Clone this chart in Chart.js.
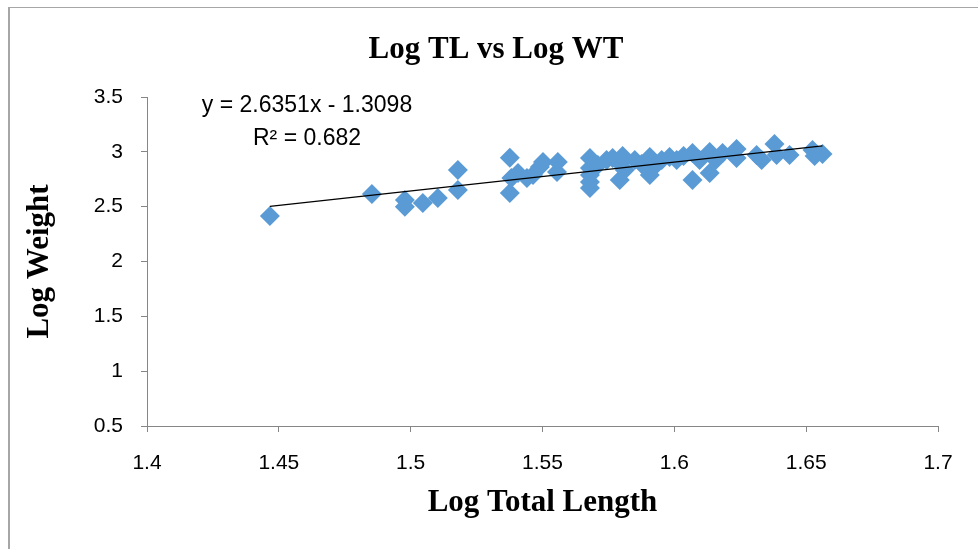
<!DOCTYPE html>
<html>
<head>
<meta charset="utf-8">
<script src="https://cdn.jsdelivr.net/npm/chart.js@4.4.1/dist/chart.umd.min.js"></script>
<style>
    body { margin: 0; background: #fff; }
    #wrap { position: relative; width: 978px; height: 549px; overflow: hidden; }
    #frame { position: absolute; left: 8px; top: 7px; width: 2000px; height: 2000px;
             border-left: 2px solid #a6a6a6; border-top: 1px solid #a6a6a6; }
    #myChart { position: absolute; left: 0; top: 0; }
</style>
</head>
<body>
<div id="wrap">
    <div id="frame"></div>
    <canvas id="myChart" width="978" height="549"></canvas>
</div>
<script>
// log total length / log weight
const LOG_TL = [
    1.4466, 1.4853, 1.4978, 1.4978, 1.5046, 1.5103, 1.5179, 1.5179,
    1.5376, 1.5376, 1.5382, 1.5407, 1.5441, 1.5464, 1.5490, 1.5502,
    1.5558, 1.5555, 1.5680, 1.5680, 1.5680, 1.5680, 1.5680,
    1.5710, 1.5743, 1.5766, 1.5793, 1.5804, 1.5793, 1.5812, 1.5850,
    1.5876, 1.5907, 1.5907, 1.5926, 1.5952, 1.5982, 1.6009, 1.6035,
    1.6069, 1.6069, 1.6096, 1.6134, 1.6134, 1.6157, 1.6183, 1.6236,
    1.6236, 1.6312, 1.6331, 1.6380, 1.6388, 1.6437, 1.6524, 1.6532, 1.6562
];
const LOG_WT = [
    2.415, 2.615, 2.561, 2.500, 2.533, 2.579, 2.652, 2.834,
    2.947, 2.625, 2.761, 2.807, 2.761, 2.789, 2.862, 2.907,
    2.907, 2.816, 2.944, 2.853, 2.789, 2.725, 2.670,
    2.880, 2.925, 2.944, 2.898, 2.962, 2.743, 2.834, 2.925,
    2.889, 2.953, 2.789, 2.871, 2.925, 2.953, 2.925, 2.962,
    2.989, 2.743, 2.925, 2.998, 2.807, 2.925, 2.989, 3.026,
    2.944, 2.971, 2.925, 3.071, 2.971, 2.971, 3.017, 2.962, 2.980
];

// linear trendline ends
const TREND_X = [1.4466, 1.6562];
const TREND_Y = [2.502, 3.054];

const TITLE = 'Log TL vs Log WT';
const X_TITLE = 'Log Total Length';
const Y_TITLE = 'Log Weight';
const EQ_LINE = 'y = 2.6351x - 1.3098';
const R2_LINE = 'R² = 0.682';

function toPoints(xs, ys) {
    var pts = [];
    for (var i = 0; i < xs.length; i++) {
        pts.push({ x: xs[i], y: ys[i] });
    }
    return pts;
}

function plainNum(v) {
    return String(Number(v.toFixed(2)));
}

const axisGray = '#868686';

// chart title and the trendline label
const textPlugin = {
    id: 'texts',
    afterDraw(chart) {
        var ctx = chart.ctx;
        ctx.save();
        ctx.fillStyle = '#000';
        ctx.textAlign = 'center';
        ctx.textBaseline = 'alphabetic';
        ctx.font = 'bold 31px "Liberation Serif", "Times New Roman", serif';
        ctx.fillText(TITLE, 496, 58);
        ctx.font = '23px "Liberation Sans", Arial, sans-serif';
        ctx.fillText(EQ_LINE, 307, 112);
        ctx.fillText(R2_LINE, 307, 145);
        ctx.restore();
    }
};

var ctx = document.getElementById('myChart');
var myChart = new Chart(ctx, {
    type: 'scatter',
    data: {
        datasets: [{
            label: 'Linear',
            data: toPoints(TREND_X, TREND_Y),
            showLine: true,
            borderColor: '#000',
            borderWidth: 1.3,
            pointRadius: 0
        }, {
            label: 'Log WT',
            data: toPoints(LOG_TL, LOG_WT),
            pointStyle: 'rectRot',
            pointRadius: 10,
            backgroundColor: '#5B9BD5',
            borderColor: '#5B9BD5',
            borderWidth: 0
        }]
    },
    options: {
        responsive: false,
        animation: false,
        layout: { padding: { top: 97, right: 40, left: 0, bottom: 0 } },
        plugins: {
            legend: { display: false },
            tooltip: { enabled: false }
        },
        scales: {
            x: {
                type: 'linear',
                min: 1.4,
                max: 1.7,
                afterFit: function (scale) { scale.height = 123; },
                ticks: {
                    stepSize: 0.05,
                    padding: 19,
                    color: '#000',
                    font: { family: '"Liberation Sans", Arial, sans-serif', size: 21 },
                    callback: plainNum
                },
                grid: { drawOnChartArea: false, drawTicks: true, tickLength: 6, color: axisGray },
                border: { color: axisGray },
                title: {
                    display: true,
                    text: X_TITLE,
                    color: '#000',
                    font: { family: '"Liberation Serif", "Times New Roman", serif', size: 31, weight: 'bold' },
                    padding: { top: 0, bottom: 27 }
                }
            },
            y: {
                min: 0.5,
                max: 3.5,
                afterFit: function (scale) { scale.width = 147; },
                ticks: {
                    stepSize: 0.5,
                    padding: 18,
                    color: '#000',
                    font: { family: '"Liberation Sans", Arial, sans-serif', size: 21 },
                    callback: plainNum
                },
                grid: { drawOnChartArea: false, drawTicks: true, tickLength: 6, color: axisGray },
                border: { color: axisGray },
                title: {
                    display: true,
                    text: Y_TITLE,
                    color: '#000',
                    font: { family: '"Liberation Serif", "Times New Roman", serif', size: 31, weight: 'bold' },
                    padding: { top: 21, bottom: 0 }
                }
            }
        }
    },
    plugins: [textPlugin]
});
</script>
</body>
</html>
